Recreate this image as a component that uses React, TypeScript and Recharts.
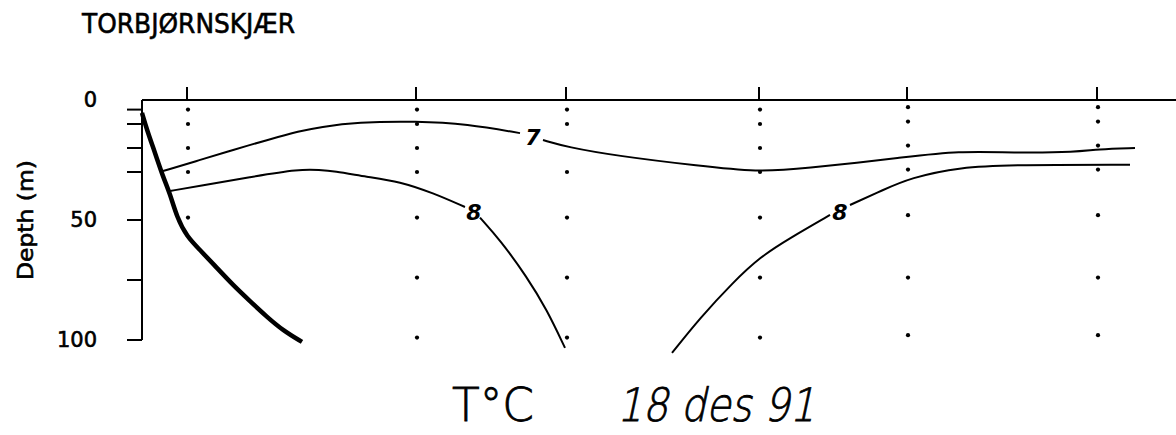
import React from 'react';
import { ComposedChart, Line, Scatter, XAxis, YAxis, ReferenceLine } from 'recharts';

// Distance along the section (arbitrary units), depth in metres
const stationDistances = [45, 274, 424, 617, 765, 955];
const depthTicks = [0, 4, 10, 20, 30, 50, 75, 100];
const depthTickLabels = [0, 50, 100];

const stationSampleDepths = [
  [4, 10, 20, 30, 49],
  [4, 10, 20, 30, 49, 74, 99],
  [4, 10, 30, 49, 74, 99],
  [4, 10, 20, 30, 49, 74, 99],
  [3, 9, 19, 29, 48, 74, 98],
  [3, 9, 19, 29, 48, 74, 98],
];

const bottomDist = [0, 5, 13, 21, 28, 35, 45, 58, 75, 91, 108, 125, 141, 160];
const bottomDepth = [5.4, 12.5, 22, 32, 39, 49, 57, 62.5, 70, 77.1, 83.8, 90.4, 96, 100.8];

const iso7aDist = [21, 58, 91, 125, 158, 178, 215, 275, 325, 378];
const iso7aDepth = [29.6, 25, 20.8, 16.7, 12.9, 11.3, 9.2, 8.8, 10, 13.8];
const iso7bDist = [401, 425, 475, 558, 616, 658, 765, 815, 875, 935, 955, 993];
const iso7bDepth = [16.7, 19.6, 23.3, 27.5, 30, 28.8, 23.75, 21.25, 22, 21.7, 20.5, 20];

const iso8aDist = [28, 58, 108, 158, 178, 191, 225, 258, 291, 323];
const iso8aDepth = [37.9, 35.8, 32.1, 28.75, 29.2, 29.6, 32, 34, 38.75, 44.6];
const iso8bDist = [338, 358, 385, 405, 423];
const iso8bDepth = [49, 58.3, 73.75, 87.5, 103.3];
const iso8cDist = [530, 558, 591, 618, 648, 688];
const iso8cDepth = [105.4, 90.8, 76, 65.4, 57.5, 47.9];
const iso8dDist = [708, 741, 768, 818, 875, 988];
const iso8dDepth = [43.75, 37.5, 32.5, 27.9, 27, 27];

const isoLabelText = ['7', '8', '8'];
const isoLabelDist = [391, 332, 698];
const isoLabelDepth = [15.8, 46.7, 46.7];

const toSeries = (d: number[], z: number[]) => d.map((v, i) => ({ dist: v, depth: z[i] }));

const bottom = toSeries(bottomDist, bottomDepth);
const iso7a = toSeries(iso7aDist, iso7aDepth);
const iso7b = toSeries(iso7bDist, iso7bDepth);
const iso8a = toSeries(iso8aDist, iso8aDepth);
const iso8b = toSeries(iso8bDist, iso8bDepth);
const iso8c = toSeries(iso8cDist, iso8cDepth);
const iso8d = toSeries(iso8dDist, iso8dDepth);
const samples = stationSampleDepths.flatMap((ds, i) => ds.map((d) => ({ dist: stationDistances[i], depth: d })));
const isoLabels = isoLabelText.map((t, i) => ({ dist: isoLabelDist[i], depth: isoLabelDepth[i], label: t }));

const DepthTick = (props: any) => {
  const { x, y, payload } = props;
  const v = payload.value;
  return (
    <g>
      {v !== 0 && <line x1={x - 15} x2={x} y1={y} y2={y} stroke="#000" strokeWidth={2} />}
      {depthTickLabels.includes(v) && (
        <text x={x - 45} y={y} textAnchor="end" dominantBaseline="central" fontSize={21} fontFamily="DejaVu Sans" fill="#000" stroke="#000" strokeWidth={0.6}>
          {v}
        </text>
      )}
    </g>
  );
};

const StationTick = (props: any) => {
  const { x, y } = props;
  return <line x1={x} x2={x} y1={y - 13} y2={y} stroke="#000" strokeWidth={2} />;
};

const Dot = (p: any) => <circle cx={p.cx + 1} cy={p.cy} r={2.1} fill="#000" />;
const IsoLabel = (p: any) => (
  <text x={p.cx} y={p.cy} textAnchor="middle" dominantBaseline="central" fontSize={22} fontStyle="italic" fontWeight="bold" fontFamily="DejaVu Sans" fill="#000">
    {p.payload.label}
  </text>
);

const lineProps = { type: 'basis' as const, dataKey: 'depth', stroke: '#000', dot: false, activeDot: false, isAnimationActive: false };

export default function App() {
  return (
    <div style={{ position: 'absolute', left: 0, top: 0, width: 1176, height: 435, background: '#fff' }}>
      <ComposedChart width={1176} height={435} margin={{ top: 70, right: 0, bottom: 80.6, left: 0 }}>
        <XAxis
          dataKey="dist"
          type="number"
          orientation="top"
          domain={[0, 1034]}
          ticks={stationDistances}
          interval={0}
          height={30}
          tickSize={0}
          tickMargin={0}
          tickLine={false}
          tick={<StationTick />}
          axisLine={{ stroke: '#000', strokeWidth: 2 }}
        />
        <YAxis
          dataKey="depth"
          type="number"
          reversed
          domain={[0, 106]}
          ticks={depthTicks}
          interval={0}
          width={142}
          axisLine={false}
          tickLine={false}
          tickSize={0}
          tickMargin={0}
          tick={<DepthTick />}
        />
        <ReferenceLine segment={[{ x: 0, y: 0 }, { x: 0, y: 100 }]} stroke="#000" strokeWidth={2} />
        <Line data={bottom} {...lineProps} strokeWidth={4.5} />
        <Line data={iso7a} {...lineProps} strokeWidth={2} />
        <Line data={iso7b} {...lineProps} strokeWidth={2} />
        <Line data={iso8a} {...lineProps} strokeWidth={2} />
        <Line data={iso8b} {...lineProps} strokeWidth={2} />
        <Line data={iso8c} {...lineProps} strokeWidth={2} />
        <Line data={iso8d} {...lineProps} strokeWidth={2} />
        <Scatter data={samples} dataKey="depth" shape={<Dot />} isAnimationActive={false} />
        <Scatter data={isoLabels} dataKey="depth" shape={<IsoLabel />} isAnimationActive={false} />
      </ComposedChart>
      <svg width={1176} height={435} style={{ position: 'absolute', left: 0, top: 0, pointerEvents: 'none' }}>
        <text x={82} y={33} fontSize={27} textLength={213} lengthAdjust="spacingAndGlyphs" fontFamily="DejaVu Sans" fill="#000" stroke="#000" strokeWidth={0.6}>
          TORBJØRNSKJÆR
        </text>
        <text
          x={26}
          y={220}
          transform="rotate(-90 26 220)"
          textAnchor="middle"
          dominantBaseline="central"
          fontSize={21}
          textLength={120}
          lengthAdjust="spacingAndGlyphs"
          fontFamily="DejaVu Sans"
          fill="#000"
          stroke="#000"
          strokeWidth={0.6}
        >
          Depth (m)
        </text>
        <text x={452} y={421} fontSize={46} fontWeight={200} fontFamily="DejaVu Sans" textLength={82} lengthAdjust="spacingAndGlyphs" fill="#000" stroke="#000" strokeWidth={0.8}>
          T°C
        </text>
        <text
          x={0}
          y={0}
          transform="translate(617,421) skewX(-12)"
          fontSize={46}
          fontWeight={200}
          fontFamily="DejaVu Sans"
          textLength={198}
          lengthAdjust="spacingAndGlyphs"
          fill="#000"
          stroke="#000"
          strokeWidth={0.8}
        >
          18 des 91
        </text>
      </svg>
    </div>
  );
}
